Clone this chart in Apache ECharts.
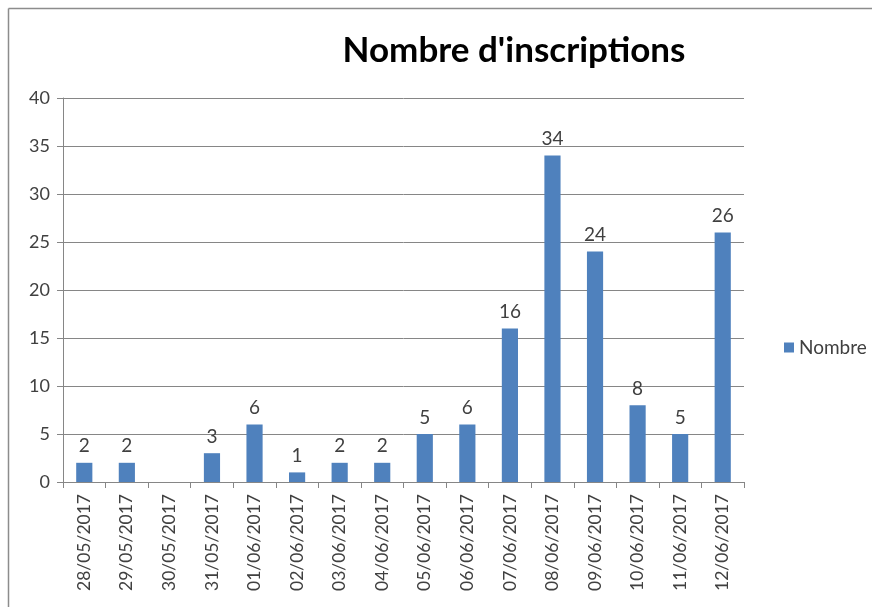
<!DOCTYPE html>
<html><head><meta charset="utf-8">
<script src="https://cdn.jsdelivr.net/npm/echarts@6/dist/echarts.min.js"></script>
<style>html,body{margin:0;padding:0;background:#fff;overflow:hidden}#c{width:872px;height:607px}</style>
</head><body><div id="c"></div>
<script>
const categories = ["28/05/2017","29/05/2017","30/05/2017","31/05/2017","01/06/2017","02/06/2017","03/06/2017","04/06/2017","05/06/2017","06/06/2017","07/06/2017","08/06/2017","09/06/2017","10/06/2017","11/06/2017","12/06/2017"];
const nombre = [2,2,null,3,6,1,2,2,5,6,16,34,24,8,5,26];
const yTicks = {min:0, max:40, interval:5};
const FONT = 'Lato, "Open Sans", sans-serif';
const chart = echarts.init(document.getElementById('c'));
chart.setOption({
  animation:false,
  textStyle:{fontFamily:FONT},
  graphic:[
    {type:'line',shape:{x1:8.5,y1:8.5,x2:872,y2:8.5},style:{stroke:'#8c8c8c',lineWidth:1.5}},
    {type:'line',shape:{x1:8.5,y1:8.5,x2:8.5,y2:607},style:{stroke:'#8c8c8c',lineWidth:1.5}}
  ],
  title:{text:"Nombre d'inscriptions",left:509,top:28,textAlign:'center',textStyle:{fontFamily:FONT,fontSize:35,fontWeight:'bold',color:'#000'}},
  legend:{data:['Nombre'],left:779,top:333,itemWidth:10,itemHeight:10,itemGap:7,icon:'rect',textStyle:{fontFamily:FONT,fontSize:19,color:'#404040'}},
  grid:{left:63,right:128,top:98,bottom:125},
  xAxis:{type:'category',data:categories,boundaryGap:true,
    axisLine:{lineStyle:{color:'#868686'}},
    axisTick:{show:true,length:6,alignWithLabel:false,lineStyle:{color:'#868686'}},
    axisLabel:{rotate:90,interval:0,fontSize:17.5,color:'#404040',margin:12,fontFamily:FONT}},
  yAxis:{type:'value',min:yTicks.min,max:yTicks.max,interval:yTicks.interval,
    axisLine:{show:true,lineStyle:{color:'#868686'}},
    axisTick:{show:true,length:6,lineStyle:{color:'#868686'}},
    splitLine:{lineStyle:{color:'#868686'}},
    axisLabel:{fontSize:18,color:'#404040',margin:13,fontFamily:FONT}},
  series:[{name:'Nombre',type:'bar',data:nombre,barWidth:'38%',
    itemStyle:{color:'#4f81bd'},
    label:{show:true,position:'top',distance:7,fontSize:19,color:'#404040',fontFamily:FONT}}]
});
</script></body></html>
